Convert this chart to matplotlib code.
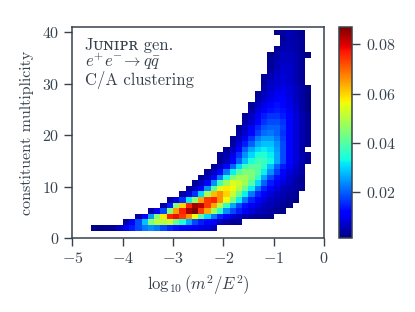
import numpy as np
import matplotlib
matplotlib.use('Agg')
import matplotlib.pyplot as plt

plt.rcParams['font.family'] = 'cmr10'
plt.rcParams['mathtext.fontset'] = 'cm'
plt.rcParams['axes.formatter.use_mathtext'] = True
plt.rcParams['axes.unicode_minus'] = True

# bin edges: log10(m^2/E^2) and constituent multiplicity
x_edges = np.linspace(-5, 0, 41)
y_edges = np.linspace(1.5, 40.5, 37)
col_offset = 3  # first occupied column of the x binning

# each row (bottom -> top): first occupied column and densities in units of 1e-3
row_start = [0, 5, 7, 9, 11, 12, 14, 15, 16, 17, 18, 19, 20, 20, 21, 22, 22, 23,
             23, 24, 24, 25, 25, 26, 26, 27, 27, 27, 28, 28, 28, 28, 29, 30, 30, 29]
row_vals = [
    [2, 2, 3, 3, 6, 10, 14, 18, 22, 24, 22, 18, 15, 13, 12, 11, 10, 9, 8, 6],
    [4, 10, 18, 28, 45, 50, 50, 52, 42, 34, 26, 18, 14, 12, 10, 6, 4, 3, 3],
    [4, 12, 25, 45, 58, 76, 78, 74, 66, 56, 40, 30, 22, 15, 11, 8, 6, 5, 4, 3, 3, 2],
    [4, 10, 18, 45, 65, 76, 84, 87, 74, 64, 48, 36, 24, 18, 14, 10, 8, 6, 5, 4, 3, 2],
    [4, 14, 44, 60, 76, 84, 82, 74, 64, 50, 36, 26, 18, 13, 10, 8, 6, 5, 4, 3, 2],
    [4, 8, 16, 32, 46, 64, 74, 76, 66, 56, 44, 32, 22, 15, 11, 8, 6, 5, 4, 3, 2],
    [4, 8, 16, 30, 48, 62, 66, 60, 52, 42, 32, 22, 15, 11, 8, 6, 5, 4, 3],
    [3, 6, 12, 24, 40, 54, 58, 56, 50, 42, 32, 22, 15, 11, 8, 6, 5, 4, 3],
    [3, 6, 12, 24, 38, 48, 54, 52, 48, 40, 30, 20, 14, 10, 8, 6, 4, 3],
    [3, 6, 12, 22, 34, 44, 48, 48, 44, 36, 26, 18, 13, 10, 7, 5, 3],
    [3, 6, 12, 22, 32, 40, 44, 44, 40, 32, 24, 17, 12, 8, 6, 4],
    [3, 6, 12, 20, 30, 38, 40, 40, 36, 28, 20, 14, 10, 7, 4],
    [3, 6, 12, 20, 28, 34, 38, 37, 33, 26, 18, 12, 8, 5, 3],
    [3, 5, 9, 16, 24, 30, 34, 35, 32, 26, 18, 12, 8, 5, 3],
    [3, 6, 12, 20, 26, 30, 32, 30, 25, 18, 12, 8, 4],
    [4, 8, 14, 20, 26, 28, 28, 24, 18, 12, 8, 5, 3],
    [3, 6, 10, 16, 22, 25, 25, 22, 17, 12, 8, 5, 3],
    [4, 7, 12, 17, 21, 22, 20, 16, 12, 8, 5, 3],
    [3, 6, 10, 15, 19, 20, 20, 17, 12, 8, 5, 3],
    [4, 7, 12, 16, 18, 18, 16, 12, 8, 5, 3],
    [3, 6, 10, 14, 16, 16, 14, 11, 8, 5, 3],
    [4, 8, 11, 13, 14, 13, 10, 7, 4, 2],
    [3, 6, 9, 12, 13, 12, 9, 7, 4, 2],
    [4, 7, 9, 11, 11, 9, 6, 4, 2],
    [3, 6, 8, 10, 10, 8, 6, 4, 2],
    [4, 7, 8, 9, 8, 6, 4, 2],
    [3, 6, 7, 8, 7, 5, 3],
    [3, 5, 7, 8, 7, 5, 3],
    [4, 6, 7, 7, 5, 3],
    [3, 5, 7, 7, 5, 3],
    [3, 5, 6, 6, 5, 3],
    [2, 4, 6, 6, 5, 3, 1],
    [3, 5, 5, 4, 3],
    [4, 5, 4, 3],
    [3, 5, 4, 3],
    [2, 4, 5, 4, 2],
]

H = np.full((len(y_edges) - 1, len(x_edges) - 1), np.nan)
for r, (s, vals) in enumerate(zip(row_start, row_vals)):
    c0 = s + col_offset
    H[r, c0:c0 + len(vals)] = np.array(vals) / 1000.0
H = np.ma.masked_invalid(H)

ink = '#37424d'
fig = plt.figure(figsize=(4.15, 3.12), dpi=100)
ax = fig.add_axes([0.1742, 0.2362, 0.6065, 0.6772])
cax = fig.add_axes([0.8176, 0.2362, 0.0299, 0.6763])

mesh = ax.pcolormesh(x_edges, y_edges, H, cmap='jet')
ax.set_xlim(-5, 0)
ax.set_ylim(0, 41)
ax.set_xticks([-5, -4, -3, -2, -1, 0])
ax.set_yticks([0, 10, 20, 30, 40])
ax.set_xlabel(r'$\log_{10}(m^2/E^2)$', fontsize=12, color=ink, labelpad=5)
ax.set_ylabel('constituent multiplicity', fontsize=11.5, color=ink, labelpad=6)
ax.tick_params(direction='out', length=6, width=1, colors=ink, labelsize=11.5, pad=3)
for sp in ax.spines.values():
    sp.set_color(ink)
    sp.set_linewidth(1.1)

cb = fig.colorbar(mesh, cax=cax)
cb.set_ticks([0.02, 0.04, 0.06, 0.08])
cb.ax.tick_params(length=6, width=1, colors=ink, labelsize=11.5, pad=4)
cb.outline.set_edgecolor(ink)
cb.outline.set_linewidth(1.1)

# "Junipr" in small caps (unicode small capitals, DejaVu Serif fallback)
ax.text(0.05, 0.891, 'J\u1d1c\u0274\u026a\u1d18\u0280 gen.', transform=ax.transAxes,
        fontsize=12, color=ink, va='baseline', ha='left',
        family=['cmr10', 'DejaVu Serif'])
ax.text(0.05, 0.809, r'$e^{+}e^{-}\!\to q\bar{q}$', transform=ax.transAxes,
        fontsize=12, color=ink, va='baseline', ha='left')
ax.text(0.05, 0.726, 'C/A clustering', transform=ax.transAxes, fontsize=12,
        color=ink, va='baseline', ha='left')

fig.savefig('out.png', dpi=100)
